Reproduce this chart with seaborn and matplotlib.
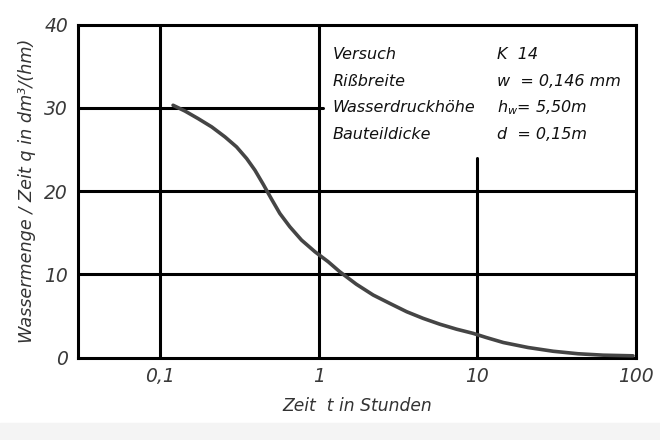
import matplotlib
matplotlib.use("Agg")
import matplotlib.pyplot as plt
import seaborn as sns
import pandas as pd

# (log time axis)
zeit_h = [0.121, 0.144, 0.174, 0.212, 0.257, 0.304, 0.352, 0.397, 0.448, 0.506,
          0.57, 0.659, 0.781, 0.949, 1.15, 1.36, 1.73, 2.21, 2.81, 3.59,
          4.56, 5.81, 7.41, 9.42, 11.4, 14.6, 20.9, 30.1, 43.2, 62.1, 95.9]
q_dm3 = [30.3, 29.6, 28.7, 27.7, 26.5, 25.3, 23.9, 22.5, 20.8, 19.0,
         17.3, 15.7, 14.1, 12.7, 11.5, 10.3, 8.8, 7.5, 6.5, 5.5,
         4.7, 4.0, 3.4, 2.9, 2.4, 1.8, 1.2, 0.75, 0.45, 0.28, 0.2]

x_ticks = [0.1, 1, 10, 100]
x_labels = ["0,1", "1", "10", "100"]
y_ticks = [0, 10, 20, 30, 40]

info_left = ["Versuch", "Rißbreite", "Wasserdruckhöhe", "Bauteildicke"]
info_right = ["K  14", "w  = 0,146 mm", r"$h_w$= 5,50m", "d  = 0,15m"]

df = pd.DataFrame({"t": zeit_h, "q": q_dm3})

sns.set_style("white")
plt.rcParams["font.family"] = ["DejaVu Sans"]
plt.rcParams["font.style"] = "italic"
plt.rcParams["mathtext.fontset"] = "dejavusans"

fig = plt.figure(figsize=(6.6, 4.4), dpi=100)
ax = fig.add_axes([0.118, 0.1875, 0.8455, 0.7568])
fig.patches.append(plt.Rectangle((0, 0), 1, 0.038, transform=fig.transFigure,
                                 color="#f4f4f4", zorder=-1))

lw = 2.2
# grid, partly left open for the info block
ax.axvline(0.1, color="black", lw=lw, zorder=1)
ax.axvline(1, color="black", lw=lw, zorder=1)
ax.axvline(10, ymax=0.6, color="black", lw=lw, zorder=1)
ax.axhline(10, color="black", lw=lw, zorder=1)
ax.axhline(20, color="black", lw=lw, zorder=1)
ax.axhline(30, xmax=0.44, color="black", lw=lw, zorder=1)

sns.lineplot(data=df, x="t", y="q", ax=ax, color="#454545", lw=2.6, zorder=3)

ax.set_xscale("log")
ax.set_xlim(0.0304, 100)
ax.set_ylim(0, 40)
ax.set_xticks(x_ticks)
ax.set_xticklabels(x_labels)
ax.set_yticks(y_ticks)
ax.minorticks_off()
ax.tick_params(length=0, labelsize=13.5, pad=7, colors="#3a3a3a")
for s in ax.spines.values():
    s.set_linewidth(lw)
    s.set_color("black")

ax.set_xlabel("Zeit  t in Stunden", fontsize=12.3, color="#333333", labelpad=8)
ax.set_ylabel("Wassermenge / Zeit q in dm³/(hm)", fontsize=12.7, color="#333333", labelpad=6)

for i, (a, b) in enumerate(zip(info_left, info_right)):
    yy = 36.4 - i * 3.2
    ax.text(0.0303 * 10 ** (255 / 158.7), yy, a, fontsize=11.5, va="center", ha="left", color="#111111")
    ax.text(0.0303 * 10 ** (419 / 158.7), yy, b, fontsize=11.5, va="center", ha="left", color="#111111")

fig.savefig("out.png", dpi=100)
